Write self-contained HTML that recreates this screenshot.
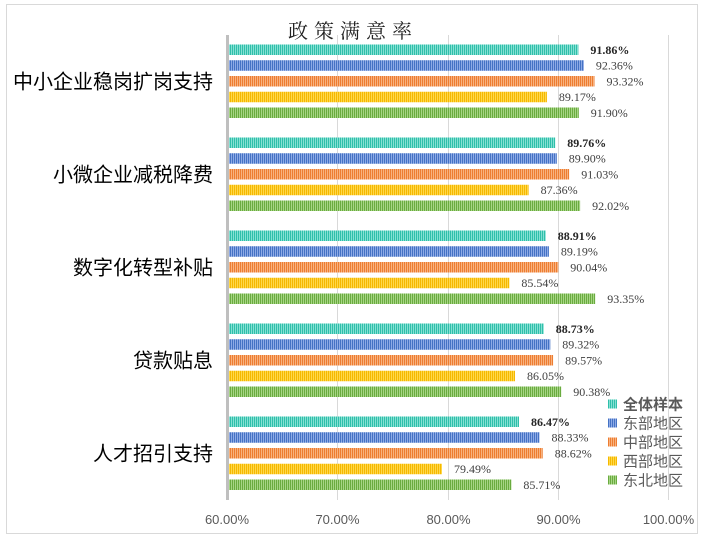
<!DOCTYPE html>
<html><head><meta charset="utf-8"><style>
html,body{margin:0;padding:0;background:#fff;}
svg{display:block;}
</style></head><body>
<svg width="702" height="540" viewBox="0 0 702 540" xmlns="http://www.w3.org/2000/svg">
<defs>
<pattern id="p0" width="2" height="4" patternUnits="userSpaceOnUse"><rect width="1" height="4" fill="#2fbfaa"/><rect x="1" width="1" height="4" fill="#86e0d3"/></pattern>
<pattern id="p1" width="2" height="4" patternUnits="userSpaceOnUse"><rect width="1" height="4" fill="#4472c4"/><rect x="1" width="1" height="4" fill="#8eaae6"/></pattern>
<pattern id="p2" width="2" height="4" patternUnits="userSpaceOnUse"><rect width="1" height="4" fill="#ed7d31"/><rect x="1" width="1" height="4" fill="#f8b27f"/></pattern>
<pattern id="p3" width="2" height="4" patternUnits="userSpaceOnUse"><rect width="1" height="4" fill="#f5b800"/><rect x="1" width="1" height="4" fill="#ffd84a"/></pattern>
<pattern id="p4" width="2" height="4" patternUnits="userSpaceOnUse"><rect width="1" height="4" fill="#6aab3f"/><rect x="1" width="1" height="4" fill="#a6d585"/></pattern>
</defs>
<rect x="6.5" y="4.5" width="691" height="529" fill="#fff" stroke="#d9d9d9" stroke-width="1"/>
<text x="288" y="38" font-family="Noto Serif CJK SC, serif" font-size="20" letter-spacing="6" fill="#222">政策满意率</text>
<g stroke="#d9d9d9" stroke-width="1">
<line x1="337.5" y1="35" x2="337.5" y2="500"/>
<line x1="448.5" y1="35" x2="448.5" y2="500"/>
<line x1="558.5" y1="35" x2="558.5" y2="500"/>
<line x1="668.5" y1="35" x2="668.5" y2="500"/>
</g>
<rect x="226" y="35" width="3" height="465" fill="#bfbfbf"/>
<g font-family="Liberation Sans, sans-serif" font-size="13" fill="#595959" text-anchor="middle">
<text x="227" y="524">60.00%</text>
<text x="337.5" y="524">70.00%</text>
<text x="448.5" y="524">80.00%</text>
<text x="558.5" y="524">90.00%</text>
<text x="668.5" y="524">100.00%</text>
</g>
<g font-family="Liberation Sans, Noto Sans CJK SC, sans-serif" font-size="20" fill="#000" text-anchor="end">
<text x="213" y="88.5">中小企业稳岗扩岗支持</text>
<text x="213" y="181.5">小微企业减税降费</text>
<text x="213" y="274.5">数字化转型补贴</text>
<text x="213" y="367.5">贷款贴息</text>
<text x="213" y="460.5">人才招引支持</text>
</g>
<g>
<rect x="229" y="44.5" width="349.4" height="10.5" fill="url(#p0)"/>
<rect x="229" y="60.25" width="354.9" height="10.5" fill="url(#p1)"/>
<rect x="229" y="76" width="365.5" height="10.5" fill="url(#p2)"/>
<rect x="229" y="91.75" width="317.9" height="10.5" fill="url(#p3)"/>
<rect x="229" y="107.5" width="349.8" height="10.5" fill="url(#p4)"/>
<rect x="229" y="137.5" width="326.2" height="10.5" fill="url(#p0)"/>
<rect x="229" y="153.25" width="327.8" height="10.5" fill="url(#p1)"/>
<rect x="229" y="169" width="340.2" height="10.5" fill="url(#p2)"/>
<rect x="229" y="184.75" width="299.6" height="10.5" fill="url(#p3)"/>
<rect x="229" y="200.5" width="351.1" height="10.5" fill="url(#p4)"/>
<rect x="229" y="230.5" width="316.8" height="10.5" fill="url(#p0)"/>
<rect x="229" y="246.25" width="319.9" height="10.5" fill="url(#p1)"/>
<rect x="229" y="262" width="329.3" height="10.5" fill="url(#p2)"/>
<rect x="229" y="277.75" width="280.4" height="10.5" fill="url(#p3)"/>
<rect x="229" y="293.5" width="366.2" height="10.5" fill="url(#p4)"/>
<rect x="229" y="323.5" width="314.8" height="10.5" fill="url(#p0)"/>
<rect x="229" y="339.25" width="321.3" height="10.5" fill="url(#p1)"/>
<rect x="229" y="355" width="324.1" height="10.5" fill="url(#p2)"/>
<rect x="229" y="370.75" width="286.0" height="10.5" fill="url(#p3)"/>
<rect x="229" y="386.5" width="332.2" height="10.5" fill="url(#p4)"/>
<rect x="229" y="416.5" width="290.0" height="10.5" fill="url(#p0)"/>
<rect x="229" y="432.25" width="310.5" height="10.5" fill="url(#p1)"/>
<rect x="229" y="448" width="313.7" height="10.5" fill="url(#p2)"/>
<rect x="229" y="463.75" width="213.0" height="10.5" fill="url(#p3)"/>
<rect x="229" y="479.5" width="282.4" height="10.5" fill="url(#p4)"/>
</g>
<g font-family="Liberation Serif, serif" font-size="12" fill="#404040">
<text x="590.4" y="53.8" font-weight="bold" fill="#262626">91.86%</text>
<text x="595.9" y="69.5">92.36%</text>
<text x="606.5" y="85.3">93.32%</text>
<text x="558.9" y="101">89.17%</text>
<text x="590.8" y="116.8">91.90%</text>
<text x="567.2" y="146.8" font-weight="bold" fill="#262626">89.76%</text>
<text x="568.8" y="162.5">89.90%</text>
<text x="581.2" y="178.3">91.03%</text>
<text x="540.6" y="194">87.36%</text>
<text x="592.1" y="209.8">92.02%</text>
<text x="557.8" y="239.8" font-weight="bold" fill="#262626">88.91%</text>
<text x="560.9" y="255.5">89.19%</text>
<text x="570.3" y="271.3">90.04%</text>
<text x="521.4" y="287">85.54%</text>
<text x="607.2" y="302.8">93.35%</text>
<text x="555.8" y="332.8" font-weight="bold" fill="#262626">88.73%</text>
<text x="562.3" y="348.5">89.32%</text>
<text x="565.1" y="364.3">89.57%</text>
<text x="527.0" y="380">86.05%</text>
<text x="573.2" y="395.8">90.38%</text>
<text x="531.0" y="425.8" font-weight="bold" fill="#262626">86.47%</text>
<text x="551.5" y="441.5">88.33%</text>
<text x="554.7" y="457.3">88.62%</text>
<text x="454.0" y="473">79.49%</text>
<text x="523.4" y="488.8">85.71%</text>
</g>
<g>
<rect x="608" y="399.5" width="9" height="9" fill="url(#p0)"/>
<rect x="608" y="418.5" width="9" height="9" fill="url(#p1)"/>
<rect x="608" y="437.5" width="9" height="9" fill="url(#p2)"/>
<rect x="608" y="456.5" width="9" height="9" fill="url(#p3)"/>
<rect x="608" y="475.5" width="9" height="9" fill="url(#p4)"/>
</g>
<g font-family="Liberation Sans, Noto Sans CJK SC, sans-serif" font-size="15" fill="#595959">
<text x="623" y="409.5" font-weight="bold">全体样本</text>
<text x="623" y="428.5">东部地区</text>
<text x="623" y="447.5">中部地区</text>
<text x="623" y="466.5">西部地区</text>
<text x="623" y="485.5">东北地区</text>
</g>
</svg>
</body></html>
